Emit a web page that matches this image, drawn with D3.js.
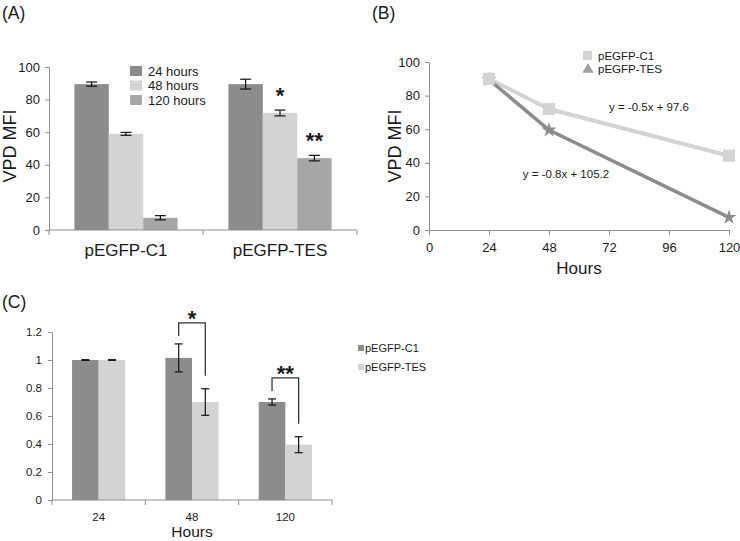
<!DOCTYPE html>
<html>
<head>
<meta charset="utf-8">
<script src="https://cdn.jsdelivr.net/npm/d3@7"></script>
<style>
html,body{margin:0;padding:0;background:#fff;}
svg text{font-family:"Liberation Sans",Arial,sans-serif;fill:#1a1a1a;}
</style>
</head>
<body>
<svg id="chart" width="740" height="541"></svg>
<script>
// ---------- Data ----------
// Panel A
const groupsA = ["pEGFP-C1", "pEGFP-TES"];
const seriesA = ["24 hours", "48 hours", "120 hours"];
const valuesA_C1 = [89.5, 59, 7.5];
const errA_C1 = [1.3, 0.9, 1.3];
const valuesA_TES = [89.5, 71.8, 44.1];
const errA_TES = [3, 1.8, 1.7];
const starsA_TES = ["", "*", "**"];
const ticksA = [0, 20, 40, 60, 80, 100];

// Panel B
const hoursB = [24, 48, 120];
const lineB_C1 = [90, 72, 44.2];
const lineB_TES = [89.5, 59.5, 7.5];
const seriesB = ["pEGFP-C1", "pEGFP-TES"];
const equationsB = ["y = -0.5x + 97.6", "y = -0.8x + 105.2"];
const ticksBx = [0, 24, 48, 72, 96, 120];
const ticksBy = [0, 20, 40, 60, 80, 100];

// Panel C
const hoursC = ["24", "48", "120"];
const seriesC = ["pEGFP-C1", "pEGFP-TES"];
const valuesC_C1 = [1, 1.015, 0.70];
const errC_C1 = [0.002, 0.1, 0.022];
const valuesC_TES = [1, 0.70, 0.395];
const errC_TES = [0.002, 0.095, 0.057];
const sigC = ["", "*", "**"];
const ticksC = [0, 0.2, 0.4, 0.6, 0.8, 1, 1.2];

// ---------- Styles ----------
const colDark = "#8c8c8c", colLight = "#d3d3d3", colMid = "#a6a6a6";
const axisCol = "#8e8e8e";
const svg = d3.select("#chart");

function label(g, x, y, txt, size, anchor, extra) {
  const t = g.append("text").attr("x", x).attr("y", y).attr("font-size", size)
    .attr("text-anchor", anchor || "start").attr("dominant-baseline", "central").text(txt);
  if (extra) extra(t);
  return t;
}
function errBar(g, x, yTop, yBot, cap) {
  g.append("line").attr("x1", x).attr("x2", x).attr("y1", yTop).attr("y2", yBot)
    .attr("stroke", "#111").attr("stroke-width", 1.2);
  [yTop, yBot].forEach(yy => g.append("line").attr("x1", x - cap / 2).attr("x2", x + cap / 2)
    .attr("y1", yy).attr("y2", yy).attr("stroke", "#111").attr("stroke-width", 1.2));
}
function star(g, x, cy, txt, size) {
  // asterisk glyph sits high; place baseline below visual center
  g.append("text").attr("x", x).attr("y", cy + size * 0.5).attr("font-size", size)
    .attr("font-weight", "bold").attr("text-anchor", "middle").text(txt);
}
function styleAxis(sel) {
  sel.selectAll("path.domain").attr("stroke", axisCol).attr("stroke-width", 1);
  sel.selectAll(".tick line").attr("stroke", axisCol);
  sel.selectAll(".tick text").attr("fill", "#1a1a1a").attr("font-family", "Liberation Sans, Arial, sans-serif");
}

// ---------- Panel A ----------
(function () {
  const g = svg.append("g");
  label(g, 2, 13, "(A)", 17.5);
  const y = d3.scaleLinear().domain([0, 100]).range([230, 67]);
  const x0 = d3.scaleBand().domain(groupsA).range([49, 357]).paddingInner(0.33).paddingOuter(0.165);
  const x1 = d3.scaleBand().domain(seriesA).range([0, x0.bandwidth()]);
  const cols = [colDark, colLight, colMid];
  const data = [valuesA_C1, valuesA_TES], errs = [errA_C1, errA_TES];
  groupsA.forEach((grp, gi) => {
    seriesA.forEach((s, si) => {
      const v = data[gi][si], e = errs[gi][si];
      const bx = x0(grp) + x1(s);
      g.append("rect").attr("x", bx).attr("y", y(v)).attr("width", x1.bandwidth())
        .attr("height", y(0) - y(v)).attr("fill", cols[si]);
      errBar(g, bx + x1.bandwidth() / 2, y(v + e), y(v - e), 11);
      if (gi === 1 && starsA_TES[si]) {
        star(g, bx + x1.bandwidth() / 2, y(v + e) - 18, starsA_TES[si], 22);
      }
    });
  });
  const ya = g.append("g").attr("transform", "translate(49,0)")
    .call(d3.axisLeft(y).tickValues(ticksA).tickSize(4).tickSizeOuter(0).tickPadding(5));
  ya.selectAll(".tick text").attr("font-size", 13);
  styleAxis(ya);
  // x axis with boundary ticks
  const xa = g.append("g").attr("transform", "translate(0,230)");
  xa.append("line").attr("x1", 49).attr("x2", 357).attr("stroke", axisCol);
  const bounds = [49, x0(groupsA[1]) - x0.step() * 0.33 / 2, 357];
  bounds.forEach(b => xa.append("line").attr("x1", b).attr("x2", b).attr("y1", 0).attr("y2", 5).attr("stroke", axisCol));
  groupsA.forEach(grp => label(g, x0(grp) + x0.bandwidth() / 2, 250, grp, 17, "middle"));
  label(g, 10, 146, "VPD MFI", 18, "middle", t => t.attr("transform", "rotate(-90,10,146)"));
  // legend
  seriesA.forEach((s, i) => {
    const ly = 71 + i * 14.5;
    g.append("rect").attr("x", 130).attr("y", ly - 5).attr("width", 12).attr("height", 10).attr("fill", cols[i]);
    label(g, 148, ly, s, 13);
  });
})();

// ---------- Panel B ----------
(function () {
  const g = svg.append("g");
  label(g, 372, 13, "(B)", 17.5);
  const x = d3.scaleLinear().domain([0, 120]).range([429, 729]);
  const y = d3.scaleLinear().domain([0, 100]).range([230, 62]);
  const xa = g.append("g").attr("transform", "translate(0,230)")
    .call(d3.axisBottom(x).tickValues(ticksBx).tickSize(5).tickSizeOuter(0).tickPadding(8));
  xa.selectAll(".tick text").attr("font-size", 13);
  styleAxis(xa);
  const ya = g.append("g").attr("transform", "translate(429,0)")
    .call(d3.axisLeft(y).tickValues(ticksBy).tickSize(4).tickSizeOuter(0).tickPadding(5));
  ya.selectAll(".tick text").attr("font-size", 13);
  styleAxis(ya);
  const line = d3.line().x((d, i) => x(hoursB[i])).y(d => y(d));
  g.append("path").datum(lineB_C1).attr("d", line).attr("fill", "none").attr("stroke", colLight).attr("stroke-width", 4);
  g.append("path").datum(lineB_TES).attr("d", line).attr("fill", "none").attr("stroke", colDark).attr("stroke-width", 3.5);
  const starSym = d3.symbol().type(d3.symbolStar).size(70);
  lineB_TES.forEach((v, i) => g.append("path").attr("d", starSym()).attr("fill", colDark)
    .attr("transform", `translate(${x(hoursB[i])},${y(v)})`));
  lineB_C1.forEach((v, i) => g.append("rect").attr("x", x(hoursB[i]) - 6).attr("y", y(v) - 6)
    .attr("width", 12).attr("height", 12).attr("fill", colLight));
  label(g, 649, 107, equationsB[0], 11.5, "middle");
  label(g, 566, 174, equationsB[1], 11.5, "middle");
  label(g, 579, 268, "Hours", 17, "middle");
  label(g, 395, 146, "VPD MFI", 18, "middle", t => t.attr("transform", "rotate(-90,395,146)"));
  // legend
  g.append("rect").attr("x", 583).attr("y", 51).attr("width", 9).attr("height", 9).attr("fill", colLight);
  g.append("path").attr("d", d3.symbol().type(d3.symbolTriangle).size(55)()).attr("fill", "#a0a0a0")
    .attr("transform", "translate(588,69.5)");
  label(g, 598, 55.5, seriesB[0], 11.5);
  label(g, 598, 69, seriesB[1], 11.5);
})();

// ---------- Panel C ----------
(function () {
  const g = svg.append("g");
  label(g, 2, 302, "(C)", 17.5);
  const y = d3.scaleLinear().domain([0, 1.2]).range([500, 332]);
  const x0 = d3.scaleBand().domain(hoursC).range([52, 332]).paddingInner(0.43).paddingOuter(0.215);
  const x1 = d3.scaleBand().domain(seriesC).range([0, x0.bandwidth()]);
  const cols = [colDark, colLight];
  const data = [valuesC_C1, valuesC_TES], errs = [errC_C1, errC_TES];
  hoursC.forEach((h, hi) => {
    seriesC.forEach((s, si) => {
      const v = data[si][hi], e = errs[si][hi];
      const bx = x0(h) + x1(s);
      g.append("rect").attr("x", bx).attr("y", y(v)).attr("width", x1.bandwidth())
        .attr("height", y(0) - y(v)).attr("fill", cols[si]);
      errBar(g, bx + x1.bandwidth() / 2, y(v + e), y(v - e), 8);
    });
    if (sigC[hi]) {
      const xl = x0(h) + x1(seriesC[0]) + x1.bandwidth() / 2;
      const xr = x0(h) + x1(seriesC[1]) + x1.bandwidth() / 2;
      const yl = y(valuesC_C1[hi] + errC_C1[hi]) - 8;
      const yr = y(valuesC_TES[hi] + errC_TES[hi]) - 13;
      const yt = Math.min(yl, yr) - 13;
      g.append("path").attr("d", `M${xl},${yl}V${yt}H${xr}V${yr}`).attr("fill", "none")
        .attr("stroke", "#333").attr("stroke-width", 1.3);
      star(g, (xl + xr) / 2, yt - 8, sigC[hi], 22);
    }
  });
  const ya = g.append("g").attr("transform", "translate(52,0)")
    .call(d3.axisLeft(y).tickValues(ticksC).tickFormat(d => String(d)).tickSize(4).tickSizeOuter(0).tickPadding(6));
  ya.selectAll(".tick text").attr("font-size", 11.5);
  styleAxis(ya);
  const xa = g.append("g").attr("transform", "translate(0,500)");
  xa.append("line").attr("x1", 52).attr("x2", 332).attr("stroke", axisCol);
  [0, 1, 2, 3].forEach(i => {
    const b = 52 + i * x0.step();
    xa.append("line").attr("x1", b).attr("x2", b).attr("y1", 0).attr("y2", 5).attr("stroke", axisCol);
  });
  hoursC.forEach(h => label(g, x0(h) + x0.bandwidth() / 2, 517, h, 11.5, "middle"));
  label(g, 192, 531.5, "Hours", 15.5, "middle");
  // legend
  seriesC.forEach((s, i) => {
    const ly = 348 + i * 19;
    g.append("rect").attr("x", 358).attr("y", ly - 3).attr("width", 6).attr("height", 6).attr("fill", cols[i]);
    label(g, 365, ly, s, 11);
  });
})();
</script>
</body>
</html>
